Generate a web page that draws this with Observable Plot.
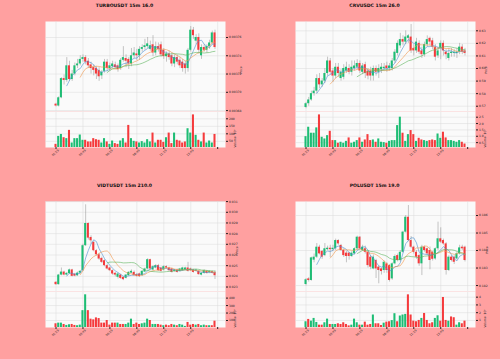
<!DOCTYPE html>
<html><head><meta charset="utf-8">
<script src="https://cdn.jsdelivr.net/npm/d3@7"></script>
<script src="https://cdn.jsdelivr.net/npm/@observablehq/plot@0.6"></script>
<style>
html,body{margin:0;padding:0;background:#ffa0a0;}
#root{position:relative;width:500px;height:359px;overflow:hidden;background:#ffa0a0;font-family:"DejaVu Sans",sans-serif;}
.q{position:absolute;width:250px;height:180px;}
.q svg{position:absolute;left:0;}
</style></head><body><div id="root"></div>
<script>
const timeLabels = ["01:15","03:45","06:15","08:45","11:15","13:45"];
const xTicks = [0,10,20,30,40,50,60];

// TURBOUSDT
const turboOpen = [0.003687,0.003685,0.003694,0.003715,0.003713,0.003729,0.003714,0.003720,0.003729,0.003731,
0.003736,0.003738,0.003734,0.003730,0.003727,0.003726,0.003724,0.003718,0.003723,0.003733,
0.003726,0.003728,0.003730,0.003729,0.003726,0.003735,0.003737,0.003736,0.003731,0.003740,
0.003742,0.003740,0.003747,0.003749,0.003750,0.003747,0.003752,0.003743,0.003750,0.003752,
0.003746,0.003739,0.003742,0.003740,0.003731,0.003738,0.003735,0.003733,0.003731,0.003726,
0.003746,0.003768,0.003756,0.003760,0.003740,0.003749,0.003746,0.003750,0.003754,0.003765];
const turboHigh = [0.003688,0.003695,0.003716,0.003719,0.003738,0.003734,0.003724,0.003732,0.003736,0.003740,
0.003741,0.003740,0.003737,0.003733,0.003730,0.003728,0.003727,0.003724,0.003736,0.003736,
0.003732,0.003734,0.003733,0.003731,0.003737,0.003750,0.003741,0.003738,0.003748,0.003749,
0.003747,0.003750,0.003752,0.003758,0.003760,0.003756,0.003762,0.003755,0.003754,0.003755,
0.003748,0.003744,0.003745,0.003743,0.003741,0.003741,0.003738,0.003736,0.003734,0.003748,
0.003772,0.003771,0.003763,0.003764,0.003752,0.003752,0.003752,0.003757,0.003767,0.003768];
const turboLow = [0.003684,0.003684,0.003693,0.003708,0.003711,0.003712,0.003712,0.003718,0.003726,0.003729,
0.003733,0.003730,0.003726,0.003720,0.003718,0.003714,0.003712,0.003714,0.003721,0.003723,
0.003723,0.003726,0.003725,0.003722,0.003724,0.003733,0.003727,0.003725,0.003728,0.003737,
0.003735,0.003735,0.003744,0.003746,0.003748,0.003745,0.003739,0.003740,0.003744,0.003738,
0.003736,0.003733,0.003735,0.003728,0.003727,0.003730,0.003726,0.003722,0.003720,0.003722,
0.003744,0.003758,0.003752,0.003742,0.003736,0.003744,0.003743,0.003747,0.003752,0.003747];
const turboClose = [0.003685,0.003694,0.003715,0.003713,0.003729,0.003714,0.003720,0.003729,0.003731,0.003736,
0.003738,0.003733,0.003729,0.003726,0.003724,0.003720,0.003717,0.003722,0.003733,0.003726,
0.003729,0.003731,0.003727,0.003725,0.003735,0.003738,0.003734,0.003731,0.003740,0.003743,
0.003740,0.003747,0.003749,0.003751,0.003753,0.003751,0.003743,0.003750,0.003747,0.003741,
0.003739,0.003742,0.003738,0.003731,0.003738,0.003733,0.003729,0.003726,0.003726,0.003746,
0.003768,0.003762,0.003760,0.003746,0.003749,0.003746,0.003750,0.003754,0.003765,0.003749];
const turboVolume = [30,83,96,74,68,123,39,68,68,92,57,57,46,46,68,61,57,39,68,46,30,52,35,30,52,68,39,156,68,50,46,39,48,39,61,46,105,39,57,57,43,74,105,35,105,57,52,39,46,134,105,226,90,57,46,105,39,52,39,96];

// CRVUSDC
const crvOpen = [0.569,0.572,0.575,0.580,0.582,0.592,0.587,0.590,0.596,0.606,
0.598,0.594,0.601,0.592,0.593,0.598,0.600,0.597,0.600,0.601,
0.604,0.597,0.603,0.598,0.598,0.594,0.600,0.597,0.599,0.600,
0.602,0.600,0.600,0.606,0.612,0.618,0.623,0.621,0.624,0.625,
0.616,0.614,0.620,0.614,0.611,0.619,0.624,0.622,0.617,0.610,
0.616,0.620,0.613,0.608,0.612,0.612,0.612,0.613,0.617,0.614];
const crvHigh = [0.573,0.577,0.582,0.585,0.595,0.596,0.592,0.600,0.609,0.608,
0.600,0.604,0.604,0.599,0.603,0.605,0.603,0.606,0.606,0.607,
0.606,0.604,0.605,0.600,0.601,0.602,0.602,0.603,0.604,0.604,
0.605,0.604,0.608,0.615,0.622,0.628,0.626,0.630,0.627,0.635,
0.619,0.624,0.622,0.617,0.621,0.626,0.625,0.624,0.619,0.617,
0.622,0.622,0.615,0.616,0.616,0.615,0.616,0.620,0.619,0.616];
const crvLow = [0.568,0.570,0.574,0.578,0.580,0.584,0.585,0.588,0.594,0.595,
0.589,0.592,0.593,0.590,0.591,0.596,0.595,0.594,0.598,0.599,
0.596,0.595,0.592,0.591,0.590,0.590,0.594,0.592,0.596,0.598,
0.597,0.598,0.598,0.604,0.610,0.616,0.618,0.619,0.620,0.612,
0.610,0.612,0.611,0.608,0.609,0.617,0.618,0.615,0.606,0.608,
0.607,0.610,0.607,0.606,0.609,0.609,0.608,0.611,0.611,0.610];
const crvClose = [0.572,0.575,0.580,0.582,0.592,0.587,0.590,0.596,0.606,0.597,
0.594,0.601,0.596,0.597,0.600,0.601,0.597,0.601,0.602,0.604,
0.598,0.602,0.596,0.594,0.594,0.600,0.597,0.600,0.601,0.601,
0.600,0.602,0.606,0.613,0.620,0.623,0.621,0.625,0.626,0.614,
0.614,0.621,0.613,0.611,0.619,0.623,0.621,0.617,0.609,0.614,
0.620,0.614,0.611,0.612,0.613,0.613,0.613,0.617,0.613,0.612];
const crvVolume = [0.97,1.71,1.24,1.24,1.66,2.68,0.92,0.79,1.05,1.39,0.66,0.66,0.45,0.53,0.45,0.6,0.87,0.45,0.53,0.66,0.87,0.53,0.71,1.13,0.66,0.71,0.53,0.79,0.53,0.5,0.45,0.6,0.66,0.66,1.84,2.5,1.24,0.6,1.13,1.45,1.13,0.6,0.84,0.71,0.66,0.6,0.66,0.71,0.66,1.18,0.84,1.32,0.87,0.66,0.66,0.6,0.53,0.66,0.53,0.39];

// VIDTUSDT
const vidtOpen = [0.02344,0.02322,0.02412,0.02440,0.02412,0.02425,0.02460,0.02420,0.02405,0.02430,
0.02453,0.02687,0.02895,0.02764,0.02718,0.02640,0.02602,0.02568,0.02546,0.02500,
0.02478,0.02453,0.02428,0.02391,0.02412,0.02391,0.02381,0.02406,0.02430,0.02437,
0.02416,0.02422,0.02406,0.02440,0.02469,0.02556,0.02459,0.02478,0.02500,0.02478,
0.02459,0.02490,0.02478,0.02469,0.02447,0.02459,0.02447,0.02453,0.02459,0.02478,
0.02469,0.02459,0.02447,0.02447,0.02412,0.02428,0.02447,0.02434,0.02443,0.02437];
const vidtHigh = [0.02350,0.02418,0.02478,0.02448,0.02436,0.02468,0.02466,0.02428,0.02440,0.02455,
0.02700,0.03070,0.02900,0.02780,0.02730,0.02650,0.02615,0.02580,0.02555,0.02510,
0.02485,0.02460,0.02435,0.02430,0.02420,0.02395,0.02418,0.02445,0.02460,0.02450,
0.02425,0.02430,0.02455,0.02478,0.02565,0.02560,0.02500,0.02510,0.02512,0.02485,
0.02500,0.02498,0.02485,0.02475,0.02465,0.02468,0.02475,0.02485,0.02485,0.02531,
0.02478,0.02465,0.02465,0.02455,0.02435,0.02460,0.02455,0.02452,0.02450,0.02450];
const vidtLow = [0.02316,0.02318,0.02405,0.02405,0.02404,0.02418,0.02395,0.02396,0.02400,0.02425,
0.02445,0.02680,0.02740,0.02700,0.02630,0.02590,0.02550,0.02520,0.02490,0.02460,
0.02445,0.02410,0.02395,0.02375,0.02372,0.02360,0.02375,0.02400,0.02425,0.02400,
0.02392,0.02390,0.02400,0.02435,0.02460,0.02455,0.02450,0.02470,0.02445,0.02440,
0.02450,0.02470,0.02445,0.02430,0.02440,0.02430,0.02440,0.02448,0.02452,0.02440,
0.02445,0.02430,0.02440,0.02410,0.02405,0.02420,0.02420,0.02428,0.02422,0.02370];
const vidtClose = [0.02322,0.02412,0.02440,0.02412,0.02428,0.02460,0.02400,0.02402,0.02430,0.02447,
0.02687,0.02895,0.02758,0.02733,0.02640,0.02602,0.02562,0.02531,0.02500,0.02469,
0.02453,0.02422,0.02412,0.02422,0.02381,0.02369,0.02412,0.02437,0.02447,0.02406,
0.02400,0.02397,0.02447,0.02469,0.02556,0.02469,0.02490,0.02500,0.02453,0.02447,
0.02490,0.02478,0.02453,0.02437,0.02459,0.02437,0.02469,0.02478,0.02478,0.02447,
0.02453,0.02437,0.02459,0.02416,0.02428,0.02453,0.02428,0.02447,0.02428,0.02406];
const vidtVolume = [56,65,65,47,34,43,47,34,30,38,232,444,232,118,109,135,126,65,65,100,38,65,65,65,47,47,47,65,118,47,65,47,56,65,118,100,47,47,47,38,30,38,30,47,38,30,47,38,21,74,38,47,38,47,30,38,30,30,30,91];

// POLUSDT
const polOpen = [0.18206,0.18238,0.18229,0.18345,0.18362,0.18419,0.18395,0.18371,0.18405,0.18413,
0.18405,0.18410,0.18457,0.18429,0.18400,0.18385,0.18385,0.18366,0.18381,0.18410,
0.18476,0.18400,0.18410,0.18390,0.18362,0.18295,0.18343,0.18305,0.18295,0.18286,
0.18324,0.18314,0.18238,0.18324,0.18371,0.18343,0.18390,0.18505,0.18590,0.18457,
0.18419,0.18390,0.18371,0.18324,0.18419,0.18410,0.18400,0.18390,0.18352,0.18410,
0.18467,0.18457,0.18438,0.18286,0.18362,0.18362,0.18352,0.18381,0.18419,0.18419];
const polHigh = [0.18240,0.18245,0.18362,0.18380,0.18440,0.18430,0.18400,0.18440,0.18425,0.18430,
0.18430,0.18465,0.18462,0.18435,0.18410,0.18395,0.18390,0.18395,0.18415,0.18482,
0.18480,0.18430,0.18425,0.18395,0.18370,0.18375,0.18350,0.18310,0.18300,0.18340,
0.18330,0.18320,0.18330,0.18375,0.18380,0.18400,0.18510,0.18600,0.18657,0.18480,
0.18425,0.18400,0.18380,0.18430,0.18425,0.18415,0.18420,0.18395,0.18415,0.18562,
0.18530,0.18465,0.18445,0.18370,0.18370,0.18370,0.18390,0.18430,0.18430,0.18425];
const polLow = [0.18198,0.18220,0.18225,0.18330,0.18355,0.18375,0.18350,0.18365,0.18400,0.18360,
0.18395,0.18400,0.18430,0.18395,0.18360,0.18330,0.18345,0.18360,0.18375,0.18400,
0.18405,0.18395,0.18380,0.18300,0.18290,0.18290,0.18240,0.18210,0.18260,0.18270,
0.18270,0.18220,0.18230,0.18318,0.18335,0.18335,0.18385,0.18500,0.18450,0.18410,
0.18380,0.18350,0.18310,0.18257,0.18390,0.18370,0.18290,0.18340,0.18345,0.18400,
0.18440,0.18430,0.18260,0.18280,0.18335,0.18320,0.18345,0.18375,0.18400,0.18335];
const polClose = [0.18233,0.18229,0.18358,0.18362,0.18419,0.18381,0.18362,0.18410,0.18413,0.18405,
0.18413,0.18457,0.18438,0.18400,0.18371,0.18366,0.18366,0.18385,0.18410,0.18476,
0.18410,0.18419,0.18390,0.18314,0.18305,0.18362,0.18295,0.18286,0.18280,0.18333,
0.18286,0.18229,0.18324,0.18366,0.18343,0.18390,0.18505,0.18590,0.18457,0.18419,
0.18390,0.18362,0.18324,0.18419,0.18400,0.18381,0.18343,0.18350,0.18410,0.18467,
0.18448,0.18438,0.18286,0.18362,0.18343,0.18333,0.18381,0.18415,0.18410,0.18343];
const polVolume = [0.83,1.13,0.91,1.26,0.74,0.39,0.39,0.7,1.17,0.48,0.48,0.48,0.57,0.48,0.7,0.48,0.3,0.39,1.17,0.7,0.39,0.39,0.78,0.39,0.48,1.7,0.57,0.57,0.35,0.65,0.78,0.83,0.98,1.87,0.83,1.57,1.7,1.78,4.3,1.7,0.91,0.83,1.0,1.26,1.9,1.0,0.57,0.7,1.26,1.6,0.9,3.96,1.0,0.9,1.45,1.35,0.39,0.7,0.57,0.91];

const UP = "#1dbd74", DOWN = "#f53a3c";
const root = document.getElementById("root");

function drawChart(ox, oy, cfg) {
  const rows = cfg.close.map((c, i) => ({i, o: cfg.open[i], h: cfg.high[i], l: cfg.low[i], c, v: cfg.volume[i], col: c >= cfg.open[i] ? UP : DOWN}));
  const xDomain = [-3.9, 62.9];
  const style = {background: "transparent", overflow: "visible", fontFamily: "DejaVu Sans, sans-serif", color: "#222"};
  const grid = {stroke: "#dadada", strokeOpacity: 1, strokeWidth: 0.5};
  const ma = (k, color) => Plot.lineY(rows, Plot.windowY({k, anchor: "end", reduce: "mean", strict: true}, {x: "i", y: "c", stroke: color, strokeWidth: 0.6}));
  const price = Plot.plot({
    width: 250, height: 116, marginLeft: 45, marginRight: 25, marginTop: 21, marginBottom: 5, style,
    x: {domain: xDomain, axis: null},
    y: {domain: cfg.priceDomain, axis: null},
    marks: [
      Plot.frame({fill: "#fafafa", stroke: null}),
      Plot.gridX(xTicks, grid),
      Plot.gridY(cfg.priceTicks, grid),
      Plot.ruleX(rows, {x: "i", y1: "l", y2: "h", stroke: "#8c8c8c", strokeWidth: 0.5}),
      Plot.rect(rows, {x1: d => d.i - 0.38, x2: d => d.i + 0.38, y1: "o", y2: "c", fill: "col"}),
      ma(5, "#4c8fd0"), ma(10, "#f0954a"), ma(20, "#5db35d"),
      Plot.axisY(cfg.priceTicks, {anchor: "right", tickFormat: cfg.priceFormat, tickSize: 2, tickPadding: 1.5, fontSize: 3, label: null}),
      Plot.text([cfg.title], {text: d => d, frameAnchor: "top", dx: -11, dy: -17.6, fontSize: 4.6, fontWeight: "bold", fill: "#111"}),
      Plot.text(["Price"], {text: d => d, frameAnchor: "right", rotate: -90, dx: cfg.priceLabelDx, fontSize: 3})
    ]
  });
  const vmin = 0.3 * d3.min(cfg.volume), vmax = 1.1 * d3.max(cfg.volume);
  const vol = Plot.plot({
    width: 250, height: 60, marginLeft: 45, marginRight: 25, marginTop: 0, marginBottom: 24, style,
    x: {domain: xDomain, axis: null},
    y: {domain: [vmin, vmax], axis: null},
    marks: [
      Plot.frame({fill: "#fafafa", stroke: null}),
      Plot.gridX(xTicks, grid),
      Plot.gridY(cfg.volumeTicks, grid),
      Plot.rect(rows, {x1: d => d.i - 0.38, x2: d => d.i + 0.38, y1: vmin, y2: "v", fill: "col"}),
      Plot.axisY(cfg.volumeTicks, {anchor: "right", tickFormat: cfg.volumeFormat, tickSize: 2, tickPadding: 1.5, fontSize: 3, label: null}),
      Plot.axisX(xTicks, {anchor: "bottom", tickSize: 2, tickFormat: () => "", label: null}),
      Plot.text(xTicks.slice(0, timeLabels.length), {x: d => d, text: d => timeLabels[d / 10], frameAnchor: "bottom", rotate: -45, dy: 6, fontSize: 3}),
      Plot.text([cfg.volumeLabel], {text: d => d, frameAnchor: "right", rotate: -90, dx: 10, fontSize: 3})
    ]
  });
  const q = document.createElement("div");
  q.className = "q";
  q.style.left = ox + "px"; q.style.top = oy + "px";
  price.style.top = "0px";
  vol.style.top = "111px";
  q.appendChild(vol);
  q.appendChild(price);
  root.appendChild(q);
}

drawChart(0, 0, {title: "TURBOUSDT 15m 16.0", open: turboOpen, high: turboHigh, low: turboLow, close: turboClose, volume: turboVolume,
  priceDomain: [0.003679, 0.0037775], priceTicks: [0.00368, 0.0037, 0.00372, 0.00374, 0.00376], priceFormat: d3.format(".5f"), priceLabelDx: 16,
  volumeTicks: [50, 100, 150, 200], volumeFormat: d3.format("d"), volumeLabel: "Volume  10⁶"});
drawChart(250, 0, {title: "CRVUSDC 15m 26.0", open: crvOpen, high: crvHigh, low: crvLow, close: crvClose, volume: crvVolume,
  priceDomain: [0.5658, 0.6374], priceTicks: [0.57, 0.58, 0.59, 0.60, 0.61, 0.62, 0.63], priceFormat: d3.format(".2f"), priceLabelDx: 11,
  volumeTicks: [0.5, 1, 1.5, 2, 2.5], volumeFormat: d3.format(".1f"), volumeLabel: "Volume  10³"});
drawChart(0, 180, {title: "VIDTUSDT 15m 210.0", open: vidtOpen, high: vidtHigh, low: vidtLow, close: vidtClose, volume: vidtVolume,
  priceDomain: [0.02258, 0.03101], priceTicks: [0.023, 0.024, 0.025, 0.026, 0.027, 0.028, 0.029, 0.030, 0.031], priceFormat: d3.format(".3f"), priceLabelDx: 12,
  volumeTicks: [100, 200, 300, 400], volumeFormat: d3.format("d"), volumeLabel: "Volume  10³"});
drawChart(250, 180, {title: "POLUSDT 15m 19.0", open: polOpen, high: polHigh, low: polLow, close: polClose, volume: polVolume,
  priceDomain: [0.18166, 0.1868], priceTicks: [0.182, 0.183, 0.184, 0.185, 0.186], priceFormat: d3.format(".3f"), priceLabelDx: 12,
  volumeTicks: [1, 2, 3, 4], volumeFormat: d3.format("d"), volumeLabel: "Volume  10⁶"});
</script></body></html>
